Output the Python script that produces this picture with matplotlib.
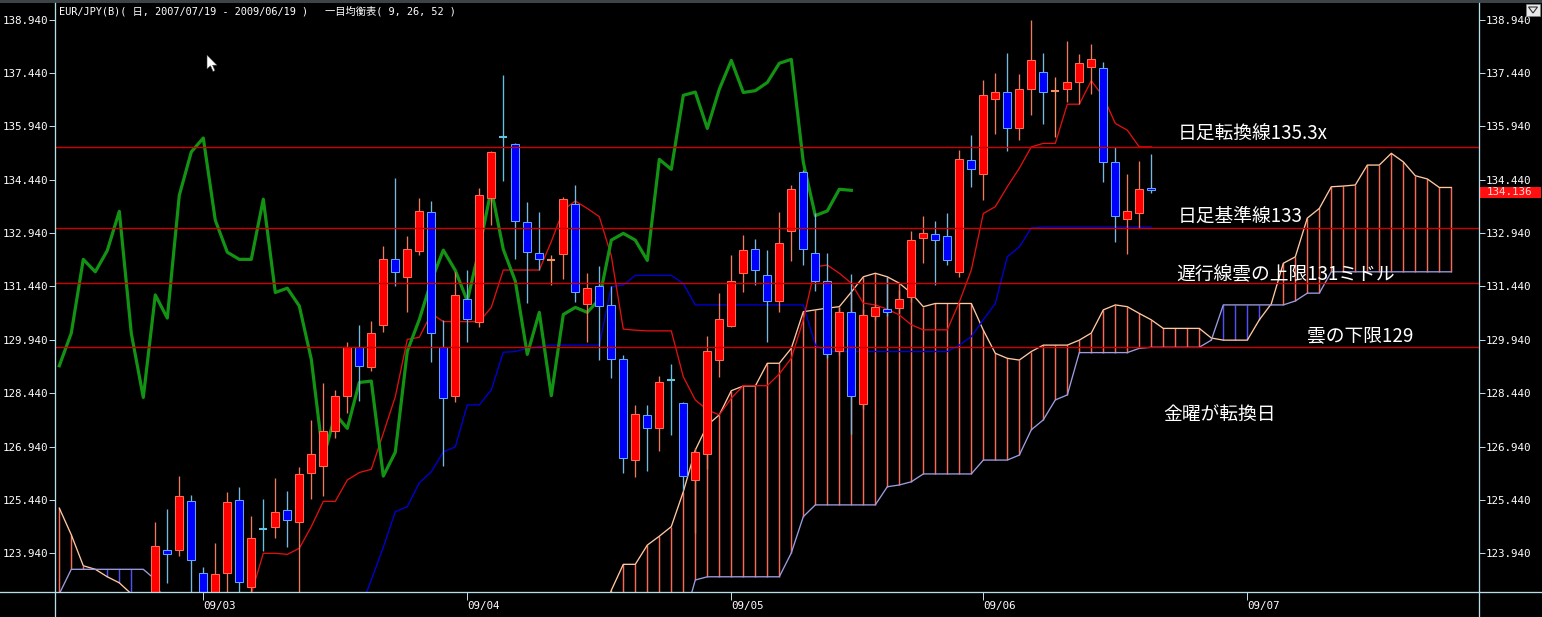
import numpy as np
import matplotlib
matplotlib.use("Agg")
import matplotlib.pyplot as plt
from matplotlib.patches import Rectangle, Polygon
from matplotlib.lines import Line2D
from matplotlib.collections import LineCollection

# ---------------- data ----------------
# bar numbers: trading days counted from 2009-03-02 (= 0)
month_pos = [0, 22, 44, 65, 87]
month_labels = ["09/03", "09/04", "09/05", "09/06", "09/07"]
price_ticks = [123.94, 125.44, 126.94, 128.44, 129.94, 131.44, 132.94, 134.44, 135.94, 137.44, 138.94]

candle_start = -4
opens = [122.3, 124.02, 124.02, 125.40, 123.40, 122.5, 123.38, 125.43, 123.00, 124.62,
         124.69, 125.15, 124.81, 126.21, 126.39, 127.37, 128.35, 129.73, 129.17, 130.35,
         132.20, 131.70, 132.43, 133.52, 129.73, 128.37, 131.08, 130.43, 133.92, 135.63,
         135.43, 133.24, 132.37, 132.18, 132.35, 133.75, 130.94, 131.46, 130.92, 129.39,
         126.55, 127.82, 127.45, 128.80, 128.16, 126.00, 126.74, 129.38, 130.33, 131.81,
         132.48, 131.75, 131.03, 132.99, 134.65, 132.37, 131.59, 129.63, 130.71, 128.13,
         130.61, 130.80, 130.82, 131.13, 132.79, 132.90, 132.85, 131.84, 134.98, 134.59,
         136.70, 136.89, 135.90, 136.98, 137.46, 136.92, 136.98, 137.17, 137.60, 137.57,
         134.93, 133.33, 133.51, 134.20]
highs = [124.83, 125.18, 126.11, 125.57, 123.55, 124.23, 125.66, 125.79, 124.98, 125.46,
         126.05, 125.69, 126.37, 127.68, 128.72, 128.53, 129.89, 130.36, 130.47, 132.58,
         134.48, 132.86, 133.92, 133.84, 130.50, 131.85, 131.90, 134.20, 135.25, 137.38,
         135.46, 133.82, 133.53, 132.31, 133.96, 134.29, 131.81, 132.00, 131.45, 129.51,
         128.11, 128.11, 128.92, 129.25, 128.20, 126.89, 130.05, 131.25, 132.31, 132.88,
         132.77, 132.46, 133.54, 134.29, 134.70, 133.49, 132.37, 130.87, 131.80, 130.80,
         130.95, 131.71, 131.34, 132.99, 133.42, 133.28, 133.49, 135.27, 135.69, 137.24,
         137.43, 138.01, 137.41, 138.93, 138.01, 137.32, 138.34, 137.97, 138.25, 137.75,
         135.37, 134.60, 134.96, 135.16]
lows = [122.0, 123.11, 123.87, 122.5, 122.2, 122.2, 122.3, 122.4, 122.5, 124.01,
        124.38, 124.13, 122.6, 125.46, 125.55, 127.17, 127.87, 128.21, 129.05, 130.17,
        131.46, 130.73, 132.32, 129.32, 126.40, 128.20, 129.89, 130.31, 133.16, 134.40,
        132.20, 130.96, 131.90, 131.48, 131.64, 131.01, 129.89, 129.37, 128.86, 126.20,
        126.09, 126.26, 126.82, 127.26, 125.72, 124.50, 126.30, 128.90, 130.29, 131.29,
        131.48, 129.89, 130.73, 132.16, 132.04, 131.30, 129.42, 129.50, 127.30, 128.00,
        130.50, 130.60, 130.70, 131.00, 132.09, 131.48, 132.04, 131.71, 134.24, 133.87,
        135.72, 135.25, 135.55, 136.26, 135.99, 135.65, 136.63, 136.57, 136.85, 134.38,
        132.70, 132.35, 133.07, 134.07]
closes = [124.14, 123.91, 125.54, 123.74, 122.6, 123.35, 125.37, 123.12, 124.36, 124.60,
          125.09, 124.87, 126.17, 126.72, 127.38, 128.35, 129.73, 129.19, 130.13, 132.20,
          131.84, 132.48, 133.55, 130.12, 128.30, 131.20, 130.51, 134.00, 135.21, 135.61,
          133.27, 132.40, 132.20, 132.20, 133.89, 131.27, 131.39, 130.89, 129.39, 126.61,
          127.85, 127.45, 128.74, 128.78, 126.11, 126.78, 129.62, 130.51, 131.59, 132.46,
          131.89, 131.03, 132.65, 134.18, 132.48, 131.59, 129.53, 130.71, 128.37, 130.65,
          130.85, 130.71, 131.08, 132.74, 132.93, 132.74, 132.17, 135.01, 134.73, 136.81,
          136.90, 135.88, 136.98, 137.79, 136.89, 136.94, 137.17, 137.71, 137.82, 134.93,
          133.43, 133.56, 134.17, 134.14]

tenkan_start = 4
tenkan = [122.8, 123.94, 123.94, 123.91, 124.08, 124.69, 125.40, 125.40, 126.00, 126.21,
          126.30, 127.31, 128.34, 129.95, 130.01, 130.68, 130.45, 130.45, 130.45, 130.45,
          130.85, 131.90, 131.90, 131.90, 131.90, 132.70, 133.59, 133.84, 133.63, 133.40,
          132.30, 130.24, 130.21, 130.19, 130.19, 130.19, 128.90, 128.25, 127.97, 127.83,
          128.30, 128.65, 128.65, 128.65, 128.98, 129.42, 130.50, 131.99, 132.04, 131.81,
          131.53, 130.97, 130.92, 130.80, 130.64, 130.36, 130.22, 130.22, 130.22, 131.00,
          131.90, 133.49, 133.68, 134.24, 134.76, 135.36, 135.46, 135.46, 136.56, 136.56,
          137.22, 136.77, 136.02, 135.83, 135.36, 135.36]

kijun_start = 13
kijun = [122.3, 123.19, 124.11, 125.11, 125.25, 125.92, 126.23, 126.79, 126.93, 128.11,
         128.11, 128.53, 129.59, 129.61, 129.70, 129.75, 129.79, 129.79, 129.79, 129.79,
         129.79, 131.43, 131.48, 131.75, 131.75, 131.75, 131.75, 131.52, 130.92, 130.92,
         130.92, 130.92, 130.92, 130.92, 130.92, 130.92, 130.92, 130.92, 129.79, 129.61,
         129.61, 129.61, 129.61, 129.61, 129.61, 129.61, 129.61, 129.61, 129.61, 129.61,
         129.79, 130.03, 130.50, 130.96, 132.27, 132.55, 133.08, 133.11, 133.11, 133.11,
         133.11, 133.11, 133.11, 133.11, 133.11, 133.11, 133.11]

chikou_start = -12
chikou = [129.21, 130.13, 132.20, 131.85, 132.45, 133.55, 130.12, 128.32, 131.20, 130.55,
          134.00, 135.22, 135.61, 133.30, 132.40, 132.20, 132.20, 133.89, 131.27, 131.39,
          130.89, 129.39, 126.61, 127.85, 127.45, 128.74, 128.78, 126.11, 126.78, 129.62,
          130.51, 131.59, 132.46, 131.89, 131.03, 132.50, 134.18, 132.48, 131.59, 129.53,
          130.71, 128.37, 130.65, 130.85, 130.71, 131.08, 132.74, 132.93, 132.74, 132.17,
          135.01, 134.73, 136.81, 136.90, 135.88, 136.98, 137.79, 136.89, 136.94, 137.17,
          137.71, 137.82, 134.93, 133.43, 133.56, 134.17, 134.14]

nan = float("nan")
cloud_start = -12
senkou_a = [125.21, 124.46, 123.59, 123.49, 123.28, 123.11, 122.80, nan, nan, nan,
            nan, nan, nan, nan, nan, nan, nan, nan, nan, nan,
            nan, nan, nan, nan, nan, nan, nan, nan, nan, nan,
            nan, nan, nan, nan, nan, nan, nan, nan, nan, nan,
            nan, nan, nan, nan, nan, 121.8, 122.90, 123.63, 123.63, 124.17,
            124.42, 124.69, 125.67, 126.84, 127.54, 127.83, 128.51, 128.64, 128.64, 129.28,
            129.28, 129.70, 130.73, 130.78, 130.83, 130.87, 131.28, 131.71, 131.81, 131.71,
            131.53, 131.25, 130.87, 130.96, 130.96, 130.96, 130.96, 130.21, 129.56, 129.42,
            129.37, 129.61, 129.79, 129.79, 129.79, 129.93, 130.13, 130.78, 130.92, 130.87,
            130.68, 130.50, 130.26, 130.26, 130.26, 130.26, 129.99, 129.93, 129.93, 129.93,
            130.50, 130.95, 132.09, 132.27, 133.36, 133.63, 134.24, 134.26, 134.29, 134.85,
            134.85, 135.18, 134.94, 134.55, 134.46, 134.22, 134.22]
senkou_b = [122.8, 123.49, 123.49, 123.49, 123.49, 123.49, 123.49, 123.49, 123.2, 122.3,
            nan, nan, nan, nan, nan, nan, nan, nan, nan, nan,
            nan, nan, nan, nan, nan, nan, nan, nan, nan, nan,
            nan, nan, nan, nan, nan, nan, nan, nan, nan, nan,
            nan, nan, nan, nan, nan, nan, 122.0, 122.0, 122.0, 122.0,
            122.0, 122.0, 122.0, 123.19, 123.28, 123.28, 123.28, 123.28, 123.28, 123.28,
            123.28, 123.95, 124.97, 125.30, 125.30, 125.30, 125.30, 125.30, 125.30, 125.81,
            125.86, 125.95, 126.17, 126.17, 126.17, 126.17, 126.17, 126.56, 126.56, 126.56,
            126.70, 127.41, 127.69, 128.25, 128.39, 129.58, 129.58, 129.58, 129.58, 129.58,
            129.70, 129.73, 129.73, 129.73, 129.73, 129.73, 129.93, 130.92, 130.92, 130.92,
            130.92, 130.92, 130.92, 131.03, 131.25, 131.25, 131.85, 131.85, 131.85, 131.85,
            131.85, 131.85, 131.85, 131.85, 131.85, 131.85, 131.85]

level_values = [135.355, 133.07, 131.53, 129.74]
notes = ["日足転換線135.3x", "日足基準線133", "遅行線雲の上限131ミドル", "雲の下限129", "金曜が転換日"]
last_price = "134.136"
title_left = "EUR/JPY(B)( 日, 2007/07/19 - 2009/06/19 )"
title_right = "一目均衡表( 9, 26, 52 )"

# ---------------- figure ----------------
W, H = 1542, 617
fig = plt.figure(figsize=(W / 100, H / 100), dpi=100, facecolor="black")


def fx(x):
    return x / W


def fy(y):
    return 1 - y / H


PX = 0.72  # one pixel in points
THIN = 0.95
AXC = "#B8DCE8"
ax = fig.add_axes([fx(55.3), fy(592.3), fx(1478.7) - fx(55.3), fy(3) - fy(592.3)])
ax.set_facecolor("black")
ax.set_xlim(-12.333, 106.283)
ax.set_ylim(122.844, 139.404)
for s in ax.spines.values():
    s.set_visible(False)

# cloud
cx = np.arange(len(senkou_a)) + cloud_start
A = np.array(senkou_a, float)
B = np.array(senkou_b, float)
up, dn = [], []
for x, a, b in zip(cx, A, B):
    if np.isnan(a) or np.isnan(b) or a == b:
        continue
    (up if a > b else dn).append([(x, a), (x, b)])
ax.add_collection(LineCollection(up, colors="#F46A56", linewidths=1.05, zorder=1))
ax.add_collection(LineCollection(dn, colors="#5050F4", linewidths=1.05, zorder=1))
ax.plot(cx, A, color="#FFC8A0", lw=THIN, zorder=2)
ax.plot(cx, B, color="#9C9CE0", lw=THIN, zorder=2)

# kijun / tenkan
ax.plot(np.arange(len(kijun)) + kijun_start, kijun, color="#0000D8", lw=THIN, zorder=3)
ax.plot(np.arange(len(tenkan)) + tenkan_start, tenkan, color="#E01010", lw=THIN, zorder=3)
# chikou
ax.plot(np.arange(len(chikou)) + chikou_start, chikou, color="#139313", lw=2.3, zorder=4,
        solid_joinstyle="round")

# candles
w = 0.68
for k, (o, h, l, c) in enumerate(zip(opens, highs, lows, closes)):
    x = k + candle_start
    upbar = c >= o
    if abs(c - o) < 0.03:
        col = "#F5905E" if upbar else "#62C2E2"
        ax.vlines(x, l, h, color=col, lw=THIN, zorder=6)
        ax.hlines(o, x - w / 2, x + w / 2, color=col, lw=1.5, zorder=7)
        continue
    if upbar:
        fc, ec, wc = "#FF0000", "#FF6A50", "#EE7A5C"
    else:
        fc, ec, wc = "#0000FF", "#5AA8FF", "#78B8E0"
    ax.vlines(x, l, h, color=wc, lw=THIN, zorder=6)
    ax.add_patch(Rectangle((x - w / 2, min(o, c)), w, abs(c - o), facecolor=fc,
                           edgecolor=ec, lw=PX, zorder=7))

# horizontal reference lines
for v in level_values:
    ax.axhline(v, color="#D00000", lw=1.0, zorder=8)

# annotations
ann_font = ["Noto Sans CJK JP", "DejaVu Sans"]
ann_pos = [(1178, 134), (1178, 216), (1176.5, 275), (1306.5, 336), (1163, 414.5)]
for t, (px_, py_) in zip(notes, ann_pos):
    fig.text(fx(px_), fy(py_), t, color="white", fontsize=13.5, family=ann_font,
             ha="left", va="center", zorder=20)

# ticks
tick_font = "DejaVu Sans Mono"
ax.set_yticks(price_ticks)
ax.set_yticklabels([f"{v:.3f}" for v in price_ticks])
ax.tick_params(axis="y", which="both", left=True, right=True, labelleft=True, labelright=True,
               direction="out", length=4.3, width=PX, color=AXC, labelcolor="white",
               labelsize=7.8, pad=1.0)
ax.set_xticks(month_pos)
ax.set_xticklabels(month_labels)
ax.tick_params(axis="x", direction="out", length=5.8, width=PX, color=AXC,
               labelcolor="white", labelsize=7.8, pad=0.8)
for lbl in ax.get_yticklabels() + ax.get_xticklabels():
    lbl.set_family(tick_font)
for lbl in ax.get_xticklabels():
    lbl.set_ha("left")

# frame lines
fig.add_artist(Line2D([fx(55.3), fx(55.3)], [fy(3), 0], color=AXC, lw=PX * 1.3))
fig.add_artist(Line2D([fx(1478.7), fx(1478.7)], [fy(3), 0], color=AXC, lw=PX * 1.3))
fig.add_artist(Line2D([0, 1], [fy(592.3), fy(592.3)], color=AXC, lw=PX * 1.3))
fig.add_artist(Rectangle((0, fy(2.5)), 1, 1 - fy(2.5), transform=fig.transFigure,
                         facecolor="#3C4448", edgecolor="none"))

# titles
title_font = ["DejaVu Sans Mono", "Noto Sans CJK JP"]
fig.text(fx(59), fy(11), title_left, color="white", fontsize=7.4, family=title_font,
         ha="left", va="center")
fig.text(fx(325), fy(11), title_right, color="white", fontsize=7.4, family=title_font,
         ha="left", va="center")

# last price box
fig.add_artist(Rectangle((fx(1479.5), fy(197.5)), fx(1540.7) - fx(1479.5), fy(186.5) - fy(197.5),
                         transform=fig.transFigure, facecolor="#FF1010", edgecolor="none"))
fig.text(fx(1487), fy(192), last_price, color="#FFD8D8", fontsize=7.8, family=tick_font,
         ha="left", va="center")

# top-right small button
fig.add_artist(Rectangle((fx(1526), fy(16)), fx(1540) - fx(1526), fy(4) - fy(16),
                         transform=fig.transFigure, facecolor="#E8E8E8", edgecolor="#808080", lw=0.5))
fig.add_artist(Polygon([(fx(1528.5), fy(7)), (fx(1537.5), fy(7)), (fx(1533), fy(13))],
                       closed=True, transform=fig.transFigure, facecolor="#E8E8E8",
                       edgecolor="#303030", lw=0.8))

# mouse pointer
cur = [(207, 55), (207, 69), (210.5, 65.8), (213, 71.5), (215, 70.6), (212.6, 65.2), (217, 65.2)]
fig.add_artist(Polygon([(fx(a), fy(b)) for a, b in cur], closed=True, transform=fig.transFigure,
                       facecolor="white", edgecolor="#404040", lw=0.4))

fig.savefig("out.png", dpi=100, facecolor="black")
